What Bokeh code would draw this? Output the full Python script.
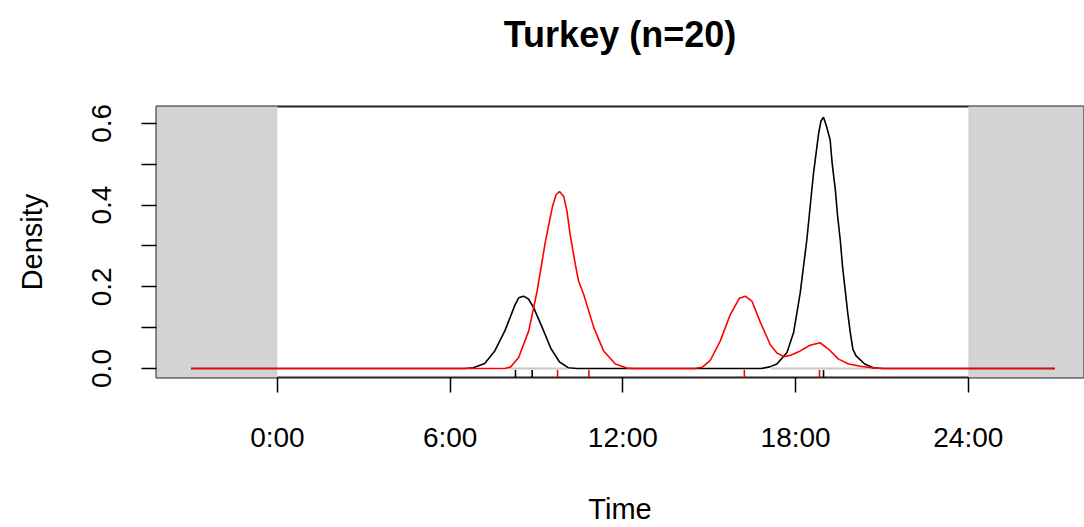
from bokeh.plotting import figure
from bokeh.models import Range1d, FixedTicker, Title
from bokeh.embed import file_html
from bokeh.resources import INLINE

# ---- data ----
title_text = "Turkey (n=20)"
x_ticks = [0, 6, 12, 18, 24]
x_labels = ["0:00", "6:00", "12:00", "18:00", "24:00"]
y_ticks = [0.0, 0.1, 0.2, 0.3, 0.4, 0.5, 0.6]
y_labels = ["0.0", "", "0.2", "", "0.4", "", "0.6"]

# night shading (hours)
shade_left = [-10, 24]
shade_right = [0, 40]

# density curve of group 1 (black)
black_x = [-3, 6.5, 6.8, 7.2, 7.55, 7.9, 8.25, 8.38, 8.55, 8.72, 8.9, 9.2, 9.5, 9.8, 10.1, 10.4,
           16.8, 17.1, 17.35, 17.7, 17.93, 18.16, 18.39, 18.62, 18.8, 18.88, 18.97, 19.08,
           19.2, 19.27, 19.38, 19.46, 19.55, 19.63, 19.72, 19.81, 19.9, 19.99, 20.1, 20.4,
           20.7, 21.0, 27]
black_y = [0, 0, 0.002, 0.012, 0.043, 0.092, 0.155, 0.173, 0.177, 0.170, 0.149, 0.100, 0.049,
           0.016, 0.002, 0,
           0, 0.004, 0.011, 0.039, 0.088, 0.185, 0.315, 0.477, 0.575, 0.605, 0.615, 0.591,
           0.559, 0.502, 0.437, 0.372, 0.315, 0.250, 0.193, 0.136, 0.088, 0.047, 0.031, 0.011,
           0.002, 0, 0]

# density curve of group 2 (red)
red_x = [-3, 7.9, 8.1, 8.38, 8.73, 9.02, 9.31, 9.55, 9.68, 9.8, 9.95, 10.06, 10.17, 10.35,
         10.46, 10.64, 10.99, 11.33, 11.74, 12.14, 12.4, 14.5, 14.75, 15.03, 15.38, 15.73,
         16.05, 16.25, 16.48, 16.77, 17.12, 17.35, 17.6, 17.85, 18.16, 18.5, 18.85, 19.15,
         19.49, 19.84, 20.3, 20.8, 21.1, 27]
red_y = [0, 0, 0.004, 0.027, 0.092, 0.189, 0.311, 0.395, 0.425, 0.433, 0.420, 0.384, 0.327,
         0.254, 0.214, 0.181, 0.100, 0.043, 0.011, 0.001, 0, 0, 0.003, 0.019, 0.067, 0.132,
         0.172, 0.177, 0.165, 0.114, 0.058, 0.038, 0.029, 0.033, 0.043, 0.057, 0.063, 0.047,
         0.023, 0.011, 0.005, 0.001, 0, 0]

# overlap outline visible on the baseline
overlap_start = [8.0, 17.15]
overlap_end = [10.1, 20.8]

# observation times (rug)
black_times = [8.27, 8.85, 18.97]
red_times = [9.73, 10.82, 16.22, 18.83]

# ---- figure ----
FONT = "Liberation Sans"
y_min, y_max = -0.022, 0.641
p = figure(width=1084, height=527, output_backend="svg", toolbar_location=None,
           title=None,
           x_range=Range1d(-4.2, 28.0), y_range=Range1d(y_min, y_max),
           min_border_left=156, min_border_right=1, min_border_top=104,
           min_border_bottom=150)
p.xgrid.visible = False
p.ygrid.visible = False
p.background_fill_color = "white"
p.border_fill_color = "white"
p.outline_line_color = "#222222"
p.outline_line_width = 2

# spacer panel next to the frame, then the real title above it
p.add_layout(Title(text=" ", text_font_size="1px", standoff=37), "above")
p.add_layout(Title(text=title_text, align="center", text_font=FONT,
                   text_font_size="36px", text_font_style="bold",
                   text_color="black", standoff=23, offset=5), "above")

p.quad(left=shade_left, right=shade_right, bottom=-1, top=1,
       fill_color="#D3D3D3", line_color=None)

p.segment(x0=overlap_start, x1=overlap_end, y0=[0] * len(overlap_start),
          y1=[0] * len(overlap_start), line_color="#C8C8C8", line_width=2)

p.line(black_x, black_y, line_color="black", line_width=1.6)
p.line(red_x, red_y, line_color="#FF0000", line_width=1.6)

rug_top = -0.0035
p.segment(x0=black_times, x1=black_times, y0=[y_min] * len(black_times),
          y1=[rug_top] * len(black_times), line_color="black", line_width=1.6)
p.segment(x0=red_times, x1=red_times, y0=[y_min] * len(red_times),
          y1=[rug_top] * len(red_times), line_color="#FF0000", line_width=1.6)

# x axis
xa = p.xaxis[0]
xa.ticker = FixedTicker(ticks=x_ticks)
xa.major_label_overrides = dict(zip(x_ticks, x_labels))
xa.axis_line_color = None
xa.major_tick_out = 15
xa.major_tick_in = 0
xa.major_tick_line_width = 1.5
xa.minor_tick_line_color = None
xa.major_label_standoff = 29
xa.major_label_text_font = FONT
xa.major_label_text_font_size = "28px"
xa.major_label_text_color = "black"
xa.axis_label = "Time"
xa.axis_label_standoff = 37
xa.axis_label_text_font = FONT
xa.axis_label_text_font_size = "29px"
xa.axis_label_text_font_style = "normal"
xa.axis_label_text_color = "black"

# y axis
ya = p.yaxis[0]
ya.ticker = FixedTicker(ticks=y_ticks)
ya.major_label_overrides = dict(zip(y_ticks, y_labels))
ya.major_label_orientation = "vertical"
ya.axis_line_color = None
ya.major_tick_out = 15
ya.major_tick_in = 0
ya.major_tick_line_width = 1.5
ya.minor_tick_line_color = None
ya.major_label_standoff = 30
ya.major_label_text_font = FONT
ya.major_label_text_font_size = "28px"
ya.major_label_text_color = "black"
ya.axis_label = "Density"
ya.axis_label_standoff = 42
ya.axis_label_text_font = FONT
ya.axis_label_text_font_size = "29px"
ya.axis_label_text_font_style = "normal"
ya.axis_label_text_color = "black"

open("out.html", "w").write(file_html(p, INLINE))
